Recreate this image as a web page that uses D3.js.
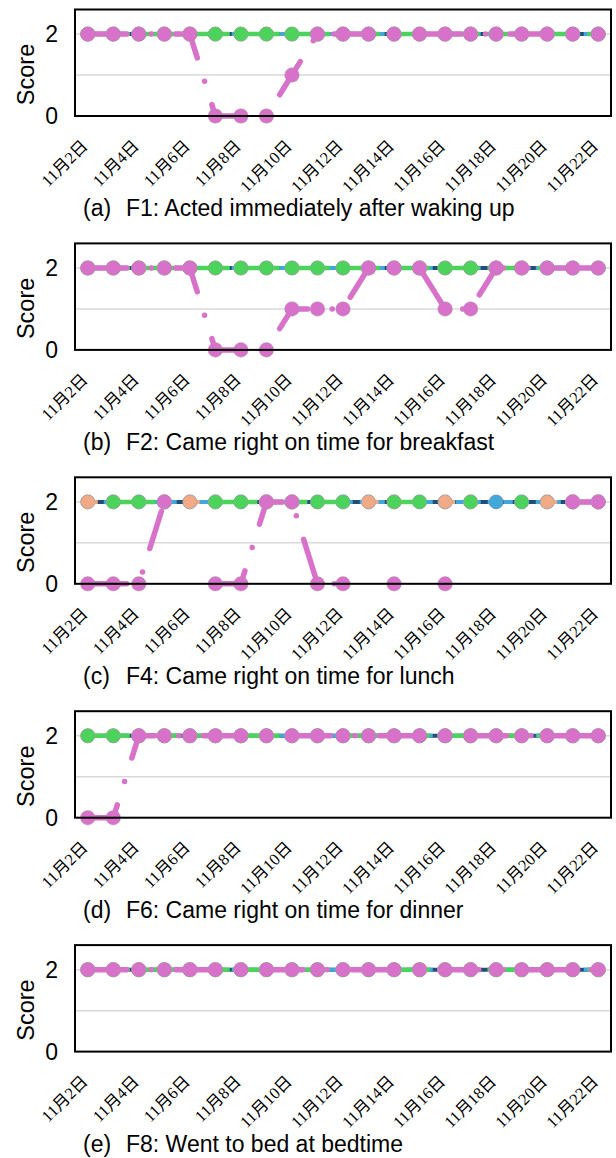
<!DOCTYPE html>
<html>
<head>
<meta charset="utf-8">
<script src="https://cdn.jsdelivr.net/npm/d3@7"></script>
<style>
  body { margin: 0; background: #fff; }
  svg { display: block; }
</style>
</head>
<body>
<svg></svg>
<script>
const size = { w: 616, h: 1158 };
const margin = { l: 75, r: 5 };
const plotH = 106.5;
const panelStep = 233.9;
const sans = "'Liberation Sans', Arial, sans-serif";
const serif = "'Liberation Serif', 'Noto Sans CJK JP', serif";

// x categories
const days = d3.range(2, 23).map((d) => `11月${d}日`);
const tickDays = days.filter((d, i) => i % 2 === 0);
const yLabels = [0, 2];
const gridValues = [1, 2];

const captions = [
	["(a)", "F1: Acted immediately after waking up"],
	["(b)", "F2: Came right on time for breakfast"],
	["(c)", "F4: Came right on time for lunch"],
	["(d)", "F6: Came right on time for dinner"],
	["(e)", "F8: Went to bed at bedtime"],
];

const N = null;
const all2 = days.map(() => 2);

// pink (main) scores per panel
const pinkA = [2, 2, 2, 2, 2, 0, 0, 0, 1, 2, 2, 2, 2, 2, 2, 2, 2, 2, 2, 2, 2];
const pinkB = [2, 2, 2, 2, 2, 0, 0, 0, 1, 1, 1, 2, 2, 2, 1, 1, 2, 2, 2, 2, 2];
const pinkC = [0, 0, 0, 2, N, 0, 0, 2, 2, 0, 0, N, 0, N, 0, N, N, N, N, 2, 2];
const pinkD = [0, 0, 2, 2, 2, 2, 2, 2, 2, 2, 2, 2, 2, 2, 2, 2, 2, 2, 2, 2, 2];
const pinkE = all2;

// other series in panel (c)
const greenC = [N, 2, 2, 2, N, 2, 2, 2, 2, 2, 2, N, 2, 2, N, 2, N, 2, N, 2, 2];
const orangeC = [2, 2, N, N, 2, 2, N, N, N, N, N, 2, 2, N, 2, 2, N, N, 2, 2, N];

const panels = [
	{ darkblue: all2, blue: all2, orange: all2, green: all2, pink: pinkA },
	{ darkblue: all2, blue: all2, orange: all2, green: all2, pink: pinkB },
	{ darkblue: all2, blue: all2, orange: orangeC, green: greenC, pink: pinkC },
	{ darkblue: all2, blue: all2, orange: all2, green: all2, pink: pinkD },
	{ darkblue: all2, blue: all2, orange: all2, green: all2, pink: pinkE },
];

// drawing order bottom -> top, with each line style
const seriesStyle = [
	{ key: "darkblue", color: "#1f4e79", width: 4, dash: null, r: 7 },
	{ key: "blue", color: "#41a8dc", width: 4, dash: "9 7", r: 7 },
	{ key: "orange", color: "#f2a985", width: 4, dash: "10 15", r: 7 },
	{ key: "green", color: "#4cd35b", width: 4.5, dash: "42 8", r: 7 },
	{ key: "pink", color: "#d871c9", width: 5.5, dash: "39 24.5 0 24.5", r: 7.3 },
];

const svg = d3.select("svg").attr("width", size.w).attr("height", size.h);

const x = d3.scaleBand().domain(days).range([margin.l, size.w - margin.r]);
const cx = (d) => x(d) + x.bandwidth() / 2;

panels.forEach((panel, i) => {
	const top = 9.5 + i * panelStep;
	const bottom = top + plotH;
	const y = d3.scaleLinear().domain([0, 2.6]).range([bottom, top]);
	const g = svg.append("g").classed("panel", true);

	// gridlines
	g.selectAll("line.grid")
		.data(gridValues)
		.join("line")
		.attr("class", "grid")
		.attr("x1", margin.l)
		.attr("x2", size.w - margin.r)
		.attr("y1", (d) => y(d))
		.attr("y2", (d) => y(d))
		.attr("stroke", "#d9d9d9")
		.attr("stroke-width", 1.5);

	// series: line then markers, one after another
	seriesStyle.forEach((s) => {
		const vals = panel[s.key];
		const pts = days.map((d, j) => ({ day: d, v: vals[j] }));
		const line = d3
			.line()
			.defined((d) => d.v !== null)
			.x((d) => cx(d.day))
			.y((d) => y(d.v));
		g.append("path")
			.datum(pts)
			.attr("d", line)
			.attr("fill", "none")
			.attr("stroke", s.color)
			.attr("stroke-width", s.width)
			.attr("stroke-linecap", s.key === "pink" ? "round" : "butt")
			.attr("stroke-dasharray", s.dash);
		g.append("g")
			.selectAll("circle")
			.data(pts.filter((d) => d.v !== null))
			.join("circle")
			.attr("cx", (d) => cx(d.day))
			.attr("cy", (d) => y(d.v))
			.attr("r", s.r)
			.attr("fill", s.color)
			.attr("stroke", "#a0a0a0")
			.attr("stroke-width", 0.4);
	});

	// frame
	g.append("rect")
		.attr("x", margin.l)
		.attr("y", top)
		.attr("width", size.w - margin.r - margin.l)
		.attr("height", plotH)
		.attr("fill", "none")
		.attr("stroke", "#000")
		.attr("stroke-width", 2);

	// y labels
	g.selectAll("text.ylab")
		.data(yLabels)
		.join("text")
		.attr("class", "ylab")
		.attr("x", 58)
		.attr("y", (d) => y(d))
		.attr("dy", "0.36em")
		.attr("text-anchor", "end")
		.attr("font-family", sans)
		.attr("font-size", 23)
		.text((d) => d);

	g.append("text")
		.attr("transform", `translate(34,${top + 65}) rotate(-90)`)
		.attr("text-anchor", "middle")
		.attr("font-family", sans)
		.attr("font-size", 23.5)
		.text("Score");

	// x tick labels
	g.selectAll("text.xlab")
		.data(tickDays)
		.join("text")
		.attr("class", "xlab")
		.attr("transform", (d) => `translate(${cx(d) + 1},${bottom + 31}) rotate(-45)`)
		.attr("text-anchor", "end")
		.attr("font-family", serif)
		.attr("font-size", 16.5)
		.text((d) => d);

	// caption
	g.append("text")
		.attr("x", 83)
		.attr("y", bottom + 100)
		.attr("font-family", sans)
		.attr("font-size", 23)
		.text(captions[i][0]);
	g.append("text")
		.attr("x", 126)
		.attr("y", bottom + 100)
		.attr("font-family", sans)
		.attr("font-size", 23)
		.text(captions[i][1]);
});
</script>
</body>
</html>
